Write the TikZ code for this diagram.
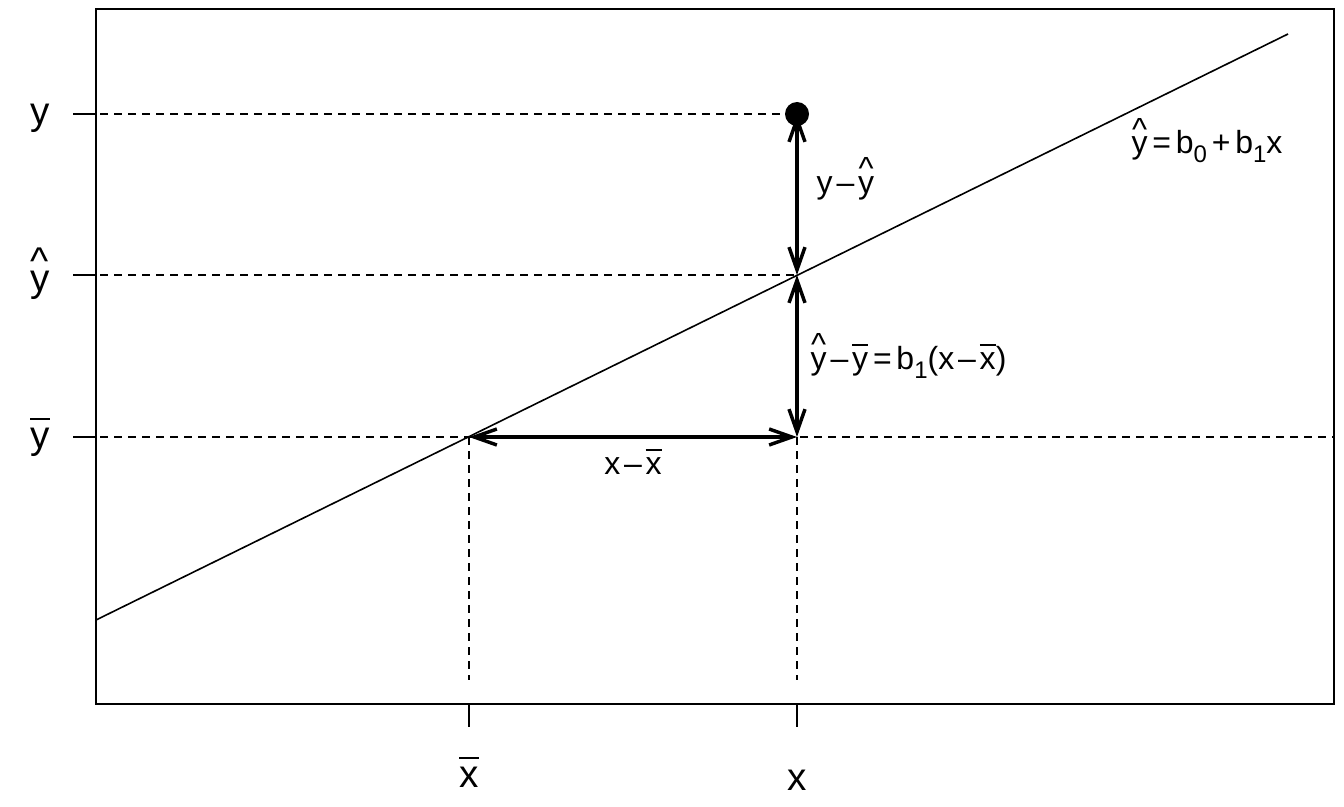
\documentclass[tikz,border=0pt]{standalone}
\usepackage{fontspec}
\setmainfont{Liberation Sans}
\usepackage{tikz}
\usetikzlibrary{arrows.meta}

\newcommand{\yhat}{{\ooalign{y\cr\hidewidth\raisebox{0.42em}{\textasciicircum}\hidewidth\cr}}}
\newcommand{\ybar}{{\ooalign{y\cr\hidewidth\rule[0.72em]{0.5em}{0.06em}\hidewidth\cr}}}
\newcommand{\xbar}{{\ooalign{x\cr\hidewidth\rule[0.72em]{0.5em}{0.06em}\hidewidth\cr}}}
\newcommand{\mi}{\kern0.12em–\kern0.12em}
\newcommand{\eq}{\kern0.15em=\kern0.15em}
\newcommand{\sub}[1]{\raisebox{-0.28em}{\fontsize{0.75em}{1em}\selectfont #1}}

\begin{document}
\begin{tikzpicture}[x=0.75pt,y=-0.75pt]
\useasboundingbox (0,0) rectangle (1344,806);
\begin{scope}[>={Straight Barb[length=17pt,width=12pt]},
    guide/.style={black,line width=1.1pt,dash pattern=on 6pt off 4.5pt},
    big/.style={font=\fontsize{29}{31}\selectfont},
    small/.style={font=\fontsize{24}{26}\selectfont}]

    % frame and ticks
    \draw[black,line width=1.5pt] (96,9) rectangle (1334,704);
    \foreach \yy in {114,275,437} \draw[black,line width=1.5pt] (73,\yy) -- (96,\yy);
    \foreach \xx in {469,797} \draw[black,line width=1.5pt] (\xx,704) -- (\xx,727);

    \coordinate (P) at (797,114);
    \coordinate (F) at (797,275);
    \coordinate (Q) at (797,437);
    \coordinate (C) at (469,437);

    % axis labels
    \node[big] (ylab) at (40,118) {y};
    \node[big] (yhlab) at (40,281) {\yhat};
    \node[big] (yblab) at (40,438) {\ybar};
    \node[big] (xblab) at (469,777) {\xbar};
    \node[big] (xlab) at (797,780) {x};

    % dashed guides
    \draw[guide] (100,114) -- (P);
    \draw[guide] (100,275) -- (F);
    \draw[guide] (100,437) -- (1334,437);
    \draw[guide] (C) -- (469,680);
    \draw[guide] (Q) -- (797,680);

    % fitted line
    \draw[black,line width=1.2pt] (96,620) -- (1288,34);
    \node[small] (fit) at (1207,147) {\yhat\eq b\sub{0}\kern0.15em+\kern0.15em b\sub{1}x};

    % observed point
    \fill[black] (P) circle(12);

    % deviations
    \draw[<->,black,line width=2.6pt] (P) -- (F);
    \draw[<->,black,line width=2.6pt] (F) -- (Q);
    \draw[<->,black,line width=2.6pt] (C) -- (Q);
    \node[small,anchor=west] (res) at (812,188) {y\mi\yhat};
    \node[small,anchor=west] (reg) at (806,362) {\yhat\mi\ybar\eq b\sub{1}(x\mi\xbar)};
    \node[small] (dx) at (633,466) {x\mi\xbar};

\end{scope}
\end{tikzpicture}
\end{document}
